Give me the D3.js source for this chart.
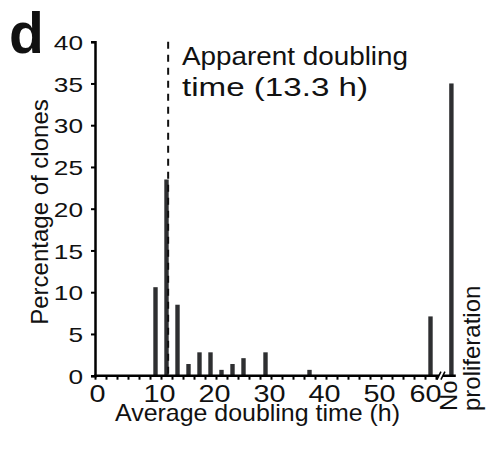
<!DOCTYPE html>
<html lang="en">
<head>
  <meta charset="UTF-8">
  <title>Doubling time histogram</title>
  <script src="https://d3js.org/d3.v7.min.js"></script>
  <style>
    body { margin: 0; background: #fff; }
    text { font-family: "Liberation Sans", Arial, sans-serif; fill: #111; }
  </style>
</head>
<body>
  <svg id="chart" width="491" height="452"></svg>
  <script>
    // bin centres (h) and percentage of clones in each bin
    const binCentres = [11, 13, 15, 17, 19, 21, 23, 25, 27, 31, 39, 61];
    const percentClones = [10.6, 23.5, 8.5, 1.4, 2.8, 2.8, 0.7, 1.4, 2.1, 2.8, 0.7, 7.1];
    // separate "No proliferation" category, drawn after the axis break
    const noProlifPos = 64.8;
    const noProlifPercent = 35.0;
    const apparentDoubling = 13.3;

    const xTicks = d3.range(0, 63, 2);
    const xTickLabels = [0, 10, 20, 30, 40, 50, 60];
    const yTicks = [0, 5, 10, 15, 20, 25, 30, 35, 40];

    const svg = d3.select('#chart');
    const x = d3.scaleLinear().domain([0, 66]).range([95, 458]);
    const y = d3.scaleLinear().domain([0, 40]).range([375.7, 41.7]);
    const barW = x(0.8) - x(0);

    // bars
    const bars = binCentres.map((c, i) => ({ pos: c, val: percentClones[i] }));
    bars.push({ pos: noProlifPos, val: noProlifPercent });
    svg.append('g').selectAll('rect')
      .data(bars)
      .join('rect')
      .attr('x', d => x(d.pos) - barW / 2)
      .attr('y', d => y(d.val))
      .attr('width', barW)
      .attr('height', d => y(0) - y(d.val))
      .attr('fill', '#2e2f31');

    // dashed line for apparent doubling time
    svg.append('line')
      .attr('x1', x(apparentDoubling)).attr('x2', x(apparentDoubling))
      .attr('y1', y(40)).attr('y2', y(0))
      .attr('stroke', '#111').attr('stroke-width', 2)
      .attr('stroke-dasharray', '7,6');

    svg.append('text')
      .attr('x', 182).attr('y', 65)
      .attr('font-size', 25)
      .attr('textLength', 226).attr('lengthAdjust', 'spacingAndGlyphs')
      .text('Apparent doubling');
    svg.append('text')
      .attr('x', 182).attr('y', 96)
      .attr('font-size', 25)
      .attr('textLength', 186).attr('lengthAdjust', 'spacingAndGlyphs')
      .text('time (13.3 h)');

    // y axis
    const yAxis = d3.axisLeft(y).tickValues(yTicks).tickSize(4).tickPadding(8);
    const gy = svg.append('g').attr('transform', `translate(${x(0)},0)`).call(yAxis);
    gy.select('.domain').attr('stroke', '#000').attr('stroke-width', 2.5);
    gy.selectAll('.tick line').attr('stroke', '#000').attr('stroke-width', 2);
    gy.selectAll('.tick text')
      .attr('font-size', 21).attr('font-family', null).attr('fill', '#111')
      .attr('x', 0).attr('dy', '0.36em')
      .attr('transform', 'translate(-12,0) scale(1.25,1)');

    // x axis
    const xAxis = d3.axisBottom(x).tickValues(xTicks).tickSize(4).tickPadding(5)
      .tickFormat(d => xTickLabels.includes(d) ? d : '');
    const gx = svg.append('g').attr('transform', `translate(0,${y(0)})`).call(xAxis);
    gx.select('.domain').remove();
    gx.selectAll('.tick line').attr('stroke', '#000').attr('stroke-width', 2);
    gx.selectAll('.tick text')
      .attr('font-size', 24).attr('font-family', null).attr('fill', '#111')
      .attr('transform', d => `translate(${d > 0 && d < 60 ? 9 : (d === 0 ? 2 : 0)},0) scale(1.2,1)`);
    gx.append('line')
      .attr('x1', x(0) - 1).attr('x2', x(65.6))
      .attr('stroke', '#000').attr('stroke-width', 2.5);

    // axis break marks
    const bx = x(62.9);
    gx.append('rect').attr('x', bx - 2).attr('y', -3).attr('width', 4).attr('height', 6).attr('fill', '#fff');
    [-2, 2].forEach(o => {
      gx.append('line')
        .attr('x1', bx + o - 2).attr('y1', 4).attr('x2', bx + o + 2).attr('y2', -4)
        .attr('stroke', '#000').attr('stroke-width', 1.5);
    });

    // "No proliferation" label
    const np = svg.append('text')
      .attr('transform', 'translate(457,411) rotate(-90)')
      .attr('font-size', 24);
    np.append('tspan').attr('x', 0).attr('y', 0).text('No');
    np.append('tspan').attr('x', 0).attr('y', 23).text('proliferation');

    // axis titles
    svg.append('text')
      .attr('x', 115).attr('y', 421)
      .attr('font-size', 24)
      .attr('textLength', 285).attr('lengthAdjust', 'spacingAndGlyphs')
      .text('Average doubling time (h)');
    svg.append('text')
      .attr('transform', 'translate(48,212) rotate(-90)')
      .attr('text-anchor', 'middle')
      .attr('font-size', 24)
      .text('Percentage of clones');

    // panel letter
    svg.append('text')
      .attr('x', 9).attr('y', 53)
      .attr('font-size', 57)
      .attr('font-weight', 'bold')
      .text('d');
  </script>
</body>
</html>
